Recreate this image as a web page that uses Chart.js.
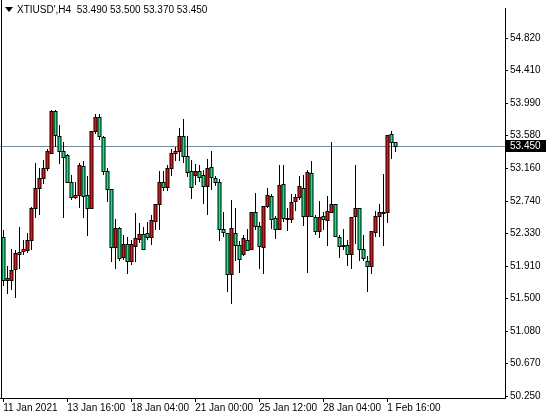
<!DOCTYPE html>
<html><head><meta charset="utf-8">
<script src="https://cdn.jsdelivr.net/npm/chart.js@4"></script>
<style>html,body{margin:0;padding:0;background:#fff}#w{width:547px;height:418px;position:relative}</style>
</head><body><div id="w"><canvas id="c"></canvas></div>
<script>
const opens =[52.28,51.74,51.74,51.88,52.07,52.10,52.12,52.24,52.66,52.91,53.04,53.17,53.36,53.89,53.57,53.38,53.33,52.99,52.79,52.82,53.19,52.82,52.66,53.63,53.82,53.56,53.13,52.89,52.16,52.40,52.03,52.20,51.98,52.17,52.26,52.32,52.33,52.28,52.49,52.70,52.99,52.92,53.16,53.35,53.38,53.57,53.32,53.13,53.08,53.12,53.08,52.93,53.18,53.04,52.99,52.39,52.34,51.81,52.33,52.18,52.07,52.25,52.13,52.60,52.43,52.16,52.68,52.81,52.52,52.39,52.96,52.51,52.51,52.74,52.80,52.91,52.55,53.10,52.54,52.36,52.55,52.50,52.60,52.71,52.29,52.18,52.18,52.07,52.55,52.65,52.13,51.98,51.91,52.35,52.55,52.59,52.60,53.60,53.49];
const highs =[52.37,51.91,52.13,52.12,52.41,52.24,52.34,52.67,53.23,53.16,53.26,53.41,53.90,53.91,53.71,53.50,53.34,53.08,52.99,53.23,53.25,53.06,53.63,53.85,53.85,53.57,53.16,52.89,52.51,52.41,52.31,52.29,52.25,52.59,52.46,52.41,52.48,52.57,52.70,53.13,53.13,53.20,53.41,53.43,53.68,53.79,53.57,53.27,53.22,53.20,53.14,53.28,53.38,53.06,53.02,52.60,52.34,52.76,52.66,52.23,52.31,52.38,52.60,52.85,52.48,52.68,52.91,52.83,52.55,53.20,53.20,52.66,52.83,52.83,53.06,53.07,53.14,53.25,52.56,52.74,52.60,52.81,53.49,52.71,52.31,52.38,52.25,52.54,53.20,52.65,52.31,52.04,52.36,52.62,52.71,53.09,53.59,53.64,53.50];
const lows  =[51.66,51.56,51.61,51.50,51.88,52.05,52.08,52.12,52.53,52.56,52.96,53.13,53.36,53.43,53.21,52.53,52.99,52.75,52.77,52.66,52.52,52.30,52.66,53.60,53.52,53.08,52.73,51.96,51.87,51.98,51.99,51.81,51.93,51.96,52.21,52.12,52.25,52.18,52.37,52.37,52.87,52.87,53.06,53.25,53.25,53.23,53.05,52.77,52.95,52.98,52.70,52.57,52.88,52.93,52.23,52.29,51.58,51.43,51.98,51.83,52.04,52.10,52.13,52.37,51.88,51.81,52.66,52.39,52.26,52.39,52.48,52.36,52.46,52.61,52.75,52.43,51.82,52.55,52.31,52.27,52.37,52.17,52.60,52.30,52.01,52.12,51.92,51.88,52.20,51.98,51.98,51.58,51.81,52.29,52.29,52.17,52.46,53.28,53.37];
const closes=[51.74,51.76,51.86,52.08,52.09,52.13,52.24,52.66,52.91,53.04,53.16,53.38,53.89,53.58,53.38,53.31,52.99,52.79,52.82,53.20,52.81,52.66,53.63,53.81,53.57,53.13,52.89,52.16,52.40,52.01,52.19,51.98,52.19,52.27,52.32,52.13,52.28,52.50,52.70,52.99,52.92,53.16,53.36,53.38,53.57,53.32,53.11,52.92,53.12,53.05,52.93,53.16,53.05,52.99,52.39,52.35,51.81,52.40,52.18,52.00,52.27,52.12,52.60,52.42,52.17,52.68,52.82,52.51,52.38,52.95,52.53,52.53,52.73,52.80,52.93,52.55,53.11,52.55,52.36,52.54,52.51,52.61,52.71,52.30,52.17,52.17,52.07,52.54,52.66,52.13,52.01,51.91,52.36,52.55,52.60,52.60,53.59,53.49,53.45];
const yTicks=[54.82,54.41,53.99,53.58,53.16,52.74,52.33,51.91,51.50,51.08,50.67,50.25];
const xTickIdx=[0,16,32,48,64,80,96];
const xTickLabels=['11 Jan 2021','13 Jan 16:00','18 Jan 04:00','21 Jan 00:00','25 Jan 12:00','28 Jan 04:00','1 Feb 16:00'];
const bid=53.45;
const FONT='"Liberation Sans", Arial, sans-serif';

const candlePlugin={id:'candles',
 afterDatasetsDraw(ch){
  const {ctx,scales:{x,y},chartArea:a}=ch;
  ctx.save();
  ctx.beginPath();ctx.rect(a.left,a.top,a.right-a.left,a.bottom-a.top);ctx.clip();
  const by=Math.round(y.getPixelForValue(bid))+0.5;
  ctx.strokeStyle='#778899';ctx.lineWidth=1;
  ctx.beginPath();ctx.moveTo(a.left,by);ctx.lineTo(a.right,by);ctx.stroke();
  for(let i=0;i<opens.length;i++){
    const cx=Math.round(x.getPixelForValue(i))+0.5;
    const yo=y.getPixelForValue(opens[i]),yc=y.getPixelForValue(closes[i]);
    const yh=y.getPixelForValue(highs[i]),yl=y.getPixelForValue(lows[i]);
    ctx.strokeStyle='#000';
    ctx.beginPath();ctx.moveTo(cx,Math.round(yh));ctx.lineTo(cx,Math.round(yl));ctx.stroke();
    const t=Math.round(Math.min(yo,yc)),b=Math.max(Math.round(Math.max(yo,yc)),t+1);
    ctx.fillStyle=closes[i]>=opens[i]?'#f01010':'#10e888';
    ctx.fillRect(cx-1.5,t,3,b-t);
    ctx.strokeRect(cx-1.5,t+0.5,3,b-t);
  }
  ctx.restore();
  ctx.save();
  ctx.fillStyle='#000';ctx.fillRect(a.right+1,by-6.5,40,12);
  ctx.fillStyle='#fff';ctx.font='10px '+FONT;ctx.textBaseline='middle';
  ctx.fillText(bid.toFixed(3),a.right+5,by);
  ctx.fillStyle='#000';
  ctx.beginPath();ctx.moveTo(5,7);ctx.lineTo(13,7);ctx.lineTo(9,12);ctx.closePath();ctx.fill();
  ctx.font='10px '+FONT;ctx.textBaseline='middle';
  ctx.fillText("XTIUSD',H4  53.490 53.500 53.370 53.450",17,10);
  ctx.restore();
 }};

new Chart(document.getElementById('c'),{
 type:'scatter',
 data:{datasets:[{data:[],pointRadius:0}]},
 options:{responsive:true,maintainAspectRatio:false,animation:false,
  layout:{padding:0},
  plugins:{legend:{display:false},tooltip:{enabled:false}},
  scales:{
   x:{type:'linear',min:-0.8,max:125.45,
    afterBuildTicks(s){s.ticks=xTickIdx.map(v=>({value:v}));},
    afterFit(s){s.height=20;},
    grid:{drawOnChartArea:false,drawTicks:true,tickLength:4,color:'#000'},
    border:{display:true,color:'#000'},
    ticks:{autoSkip:false,maxRotation:0,align:'start',padding:0,color:'#000',font:{family:FONT,size:10},
     callback:(v)=>xTickLabels[xTickIdx.indexOf(v)]}},
   y:{type:'linear',position:'right',min:50.23,max:55.205,
    afterBuildTicks(s){s.ticks=yTicks.map(v=>({value:v}));},
    afterFit(s){s.width=42;},
    grid:{drawOnChartArea:false,drawTicks:true,tickLength:3,color:'#000'},
    border:{display:true,color:'#000'},
    ticks:{autoSkip:false,padding:2,color:'#000',font:{family:FONT,size:10},callback:v=>v.toFixed(3)}}
  }},
 plugins:[candlePlugin,{id:'leftline',afterDraw(ch){const c=ch.ctx;c.save();c.strokeStyle='#000';c.beginPath();c.moveTo(1.5,0);c.lineTo(1.5,ch.chartArea.bottom);c.stroke();c.restore();}}]
});
</script></body></html>
